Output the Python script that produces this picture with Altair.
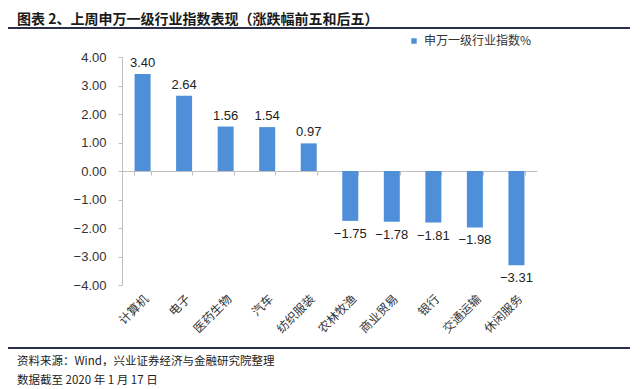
import altair as alt
import pandas as pd

categories = ["计算机", "电子", "医药生物", "汽车", "纺织服装", "农林牧渔", "商业贸易", "银行", "交通运输", "休闲服务"]
values = [3.40, 2.64, 1.56, 1.54, 0.97, -1.75, -1.78, -1.81, -1.98, -3.31]
series_name = "申万一级行业指数%"
title_text = "图表 2、上周申万一级行业指数表现（涨跌幅前五和后五）"
source_lines = ["资料来源：Wind，兴业证券经济与金融研究院整理", "数据截至 2020 年 1 月 17 日"]
y_ticks = [-4, -3, -2, -1, 0, 1, 2, 3, 4]

df = pd.DataFrame({"cat": categories, "val": values, "series": series_name})

BAR = "#4f8fd9"
GRID = "#bfbfbf"
W, H = 415, 228

xenc = alt.X("cat:N", sort=categories,
             scale=alt.Scale(paddingInner=0.61, paddingOuter=0.3),
             axis=alt.Axis(title=None, labelAngle=-45, labelAlign="right", labelBaseline="top",
                           domainColor=GRID, tickColor=GRID, tickSize=4, tickBand="extent",
                           offset=-H / 2, labelPadding=118, labelFont="Noto Sans CJK SC",
                           labelFontSize=12, labelColor="#333333"))
yenc = alt.Y("val:Q", scale=alt.Scale(domain=[-4, 4], nice=False),
             axis=alt.Axis(title=None, values=y_ticks, format=".2f", labelOverlap=False,
                           grid=False, domainColor=GRID, tickColor=GRID, tickSize=4,
                           labelPadding=12, labelFont="Liberation Sans", labelFontSize=13,
                           labelColor="#333333"))

base = alt.Chart(df)
bars = base.mark_bar(size=16).encode(
    x=xenc, y=yenc,
    color=alt.Color("series:N", scale=alt.Scale(range=[BAR]),
                    legend=alt.Legend(title=None, orient="none", legendX=286, legendY=-22,
                                      symbolType="square", symbolSize=30, labelFontSize=12,
                                      labelFont="Noto Sans CJK SC", labelColor="#333333")))
pos_lbl = base.transform_filter("datum.val >= 0").mark_text(
    baseline="alphabetic", dy=-7, fontSize=13, font="Liberation Sans", color="#222222"
).encode(x=xenc, y=yenc, text=alt.Text("val:Q", format=".2f"))
neg_lbl = base.transform_filter("datum.val < 0").mark_text(
    baseline="top", dy=7, fontSize=13, font="Liberation Sans", color="#222222"
).encode(x=xenc, y=yenc, text=alt.Text("val:Q", format=".2f"))

tdf = pd.DataFrame({"t": [title_text]})
title = alt.Chart(tdf).mark_text(align="left", baseline="alphabetic", fontSize=14, fontWeight="bold",
                                 font="Noto Sans CJK SC", color="#1a1a1a").encode(
    text="t:N", x=alt.value(-105), y=alt.value(-33))
top_line = alt.Chart(tdf).mark_rule(color="#2b2f4a", strokeWidth=2).encode(
    x=alt.value(-114), x2=alt.value(508), y=alt.value(-29))
bot_line = alt.Chart(tdf).mark_rule(color="#2b2f4a", strokeWidth=2).encode(
    x=alt.value(-114), x2=alt.value(508), y=alt.value(291))
s1 = alt.Chart(pd.DataFrame({"t": [source_lines[0]]})).mark_text(
    align="left", baseline="middle", fontSize=11.5, font="Noto Sans CJK SC", color="#222222").encode(
    text="t:N", x=alt.value(-105), y=alt.value(305))
s2 = alt.Chart(pd.DataFrame({"t": [source_lines[1]]})).mark_text(
    align="left", baseline="middle", fontSize=11.5, font="Noto Sans CJK SC", color="#222222").encode(
    text="t:N", x=alt.value(-105), y=alt.value(324))

chart = alt.layer(bars, pos_lbl, neg_lbl, title, top_line, bot_line, s1, s2).properties(
    width=W, height=H,
    autosize=alt.AutoSizeParams(type="none"),
    padding={"left": 114, "top": 49, "right": 95, "bottom": 110},
    background="white",
).configure_view(stroke=None)

chart.save("out.html", embed_options={"renderer": "svg", "actions": False})
